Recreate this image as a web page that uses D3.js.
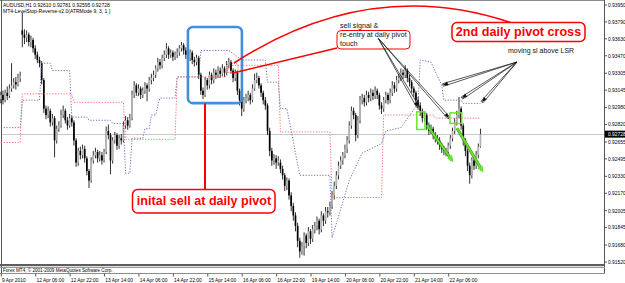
<!DOCTYPE html>
<html>
<head>
<meta charset="utf-8">
<script src="https://cdn.jsdelivr.net/npm/d3@7"></script>
<style>
html, body { margin: 0; padding: 0; background: #fff; }
svg { display: block; }
</style>
</head>
<body>
<div id="chart"></div>
<script>
// Width and height
var chart_width  = 625;
var chart_height = 283;

// AUDUSD H1 bars, 9 Apr 2010 14:00 .. 22 Apr 2010 21:00
var open = [
0.9306,0.9310,0.9305,0.9312,0.9309,0.9316,0.9319,0.9322,0.9320,0.9326,
0.9371,0.9367,0.9364,0.9367,0.9360,0.9362,0.9354,0.9348,0.9343,0.9340,
0.9324,0.9297,0.9291,0.9295,0.9284,0.9288,0.9267,0.9278,0.9281,0.9291,
0.9295,0.9286,0.9281,0.9288,0.9284,0.9267,0.9246,0.9257,0.9253,0.9259,
0.9250,0.9238,0.9229,0.9248,0.9253,0.9256,0.9250,0.9253,0.9248,0.9256,
0.9276,0.9272,0.9248,0.9267,0.9272,0.9262,0.9269,0.9267,0.9281,0.9286,
0.9281,0.9288,0.9310,0.9319,0.9312,0.9316,0.9310,0.9314,0.9319,0.9316,
0.9324,0.9326,0.9329,0.9335,0.9341,0.9338,0.9345,0.9348,0.9354,0.9348,
0.9350,0.9346,0.9348,0.9350,0.9354,0.9357,0.9352,0.9348,0.9345,0.9350,
0.9343,0.9341,0.9345,0.9329,0.9314,0.9310,0.9324,0.9319,0.9329,0.9324,
0.9331,0.9329,0.9333,0.9330,0.9335,0.9331,0.9338,0.9341,0.9333,0.9326,
0.9331,0.9314,0.9305,0.9297,0.9305,0.9307,0.9310,0.9305,0.9316,0.9324,
0.9326,0.9319,0.9312,0.9305,0.9300,0.9276,0.9257,0.9248,0.9250,0.9246,
0.9246,0.9240,0.9234,0.9224,0.9229,0.9215,0.9205,0.9196,0.9186,0.9172,
0.9162,0.9167,0.9177,0.9170,0.9181,0.9174,0.9183,0.9186,0.9191,0.9183,
0.9196,0.9191,0.9200,0.9199,0.9205,0.9215,0.9224,0.9234,0.9243,0.9248,
0.9253,0.9259,0.9267,0.9281,0.9295,0.9291,0.9272,0.9286,0.9305,0.9307,
0.9303,0.9310,0.9307,0.9312,0.9309,0.9314,0.9310,0.9300,0.9297,0.9305,
0.9310,0.9305,0.9312,0.9319,0.9316,0.9324,0.9326,0.9331,0.9329,0.9333,
0.9326,0.9322,0.9316,0.9312,0.9305,0.9300,0.9295,0.9288,0.9291,0.9281,
0.9276,0.9278,0.9272,0.9269,0.9267,0.9262,0.9259,0.9257,0.9256,0.9262,
0.9269,0.9276,0.9284,0.9291,0.9297,0.9281,0.9267,0.9257,0.9243,0.9234,
0.9248,0.9243,0.9253,0.9261
];
var high = [
0.9313,0.9314,0.9315,0.9318,0.9320,0.9340,0.9326,0.9327,0.9330,0.9332,
0.9388,0.9372,0.9371,0.9369,0.9366,0.9364,0.9357,0.9351,0.9346,0.9342,
0.9326,0.9300,0.9299,0.9297,0.9292,0.9290,0.9281,0.9285,0.9296,0.9300,
0.9297,0.9289,0.9292,0.9290,0.9286,0.9269,0.9260,0.9261,0.9263,0.9262,
0.9252,0.9240,0.9251,0.9257,0.9260,0.9258,0.9257,0.9256,0.9259,0.9280,
0.9282,0.9274,0.9270,0.9275,0.9274,0.9272,0.9273,0.9285,0.9290,0.9289,
0.9292,0.9314,0.9323,0.9321,0.9320,0.9318,0.9317,0.9322,0.9321,0.9327,
0.9330,0.9333,0.9338,0.9345,0.9344,0.9348,0.9352,0.9359,0.9356,0.9353,
0.9352,0.9351,0.9354,0.9357,0.9360,0.9359,0.9355,0.9351,0.9353,0.9352,
0.9346,0.9348,0.9347,0.9331,0.9317,0.9327,0.9326,0.9332,0.9331,0.9335,
0.9334,0.9337,0.9336,0.9339,0.9337,0.9342,0.9345,0.9343,0.9335,0.9334,
0.9333,0.9316,0.9307,0.9308,0.9311,0.9314,0.9312,0.9320,0.9330,0.9331,
0.9328,0.9321,0.9314,0.9308,0.9302,0.9279,0.9260,0.9254,0.9253,0.9252,
0.9249,0.9243,0.9236,0.9232,0.9231,0.9218,0.9208,0.9199,0.9189,0.9175,
0.9171,0.9180,0.9179,0.9185,0.9183,0.9187,0.9190,0.9195,0.9193,0.9200,
0.9198,0.9204,0.9204,0.9209,0.9219,0.9228,0.9238,0.9247,0.9252,0.9256,
0.9263,0.9271,0.9285,0.9299,0.9298,0.9293,0.9290,0.9309,0.9311,0.9310,
0.9314,0.9313,0.9316,0.9315,0.9318,0.9316,0.9312,0.9303,0.9308,0.9313,
0.9312,0.9316,0.9323,0.9322,0.9328,0.9330,0.9335,0.9334,0.9338,0.9335,
0.9329,0.9324,0.9318,0.9314,0.9308,0.9303,0.9297,0.9294,0.9293,0.9284,
0.9282,0.9280,0.9275,0.9272,0.9270,0.9265,0.9262,0.9260,0.9265,0.9272,
0.9279,0.9288,0.9295,0.9308,0.9299,0.9283,0.9269,0.9259,0.9246,0.9251,
0.9252,0.9257,0.9264,0.9278
];
var low = [
0.9302,0.9301,0.9303,0.9305,0.9307,0.9313,0.9316,0.9315,0.9318,0.9322,
0.9355,0.9358,0.9360,0.9356,0.9355,0.9350,0.9344,0.9340,0.9336,0.9320,
0.9293,0.9287,0.9288,0.9280,0.9281,0.9251,0.9264,0.9275,0.9279,0.9288,
0.9283,0.9277,0.9279,0.9280,0.9262,0.9242,0.9243,0.9249,0.9250,0.9246,
0.9234,0.9222,0.9227,0.9245,0.9250,0.9246,0.9247,0.9244,0.9246,0.9254,
0.9268,0.9235,0.9245,0.9264,0.9258,0.9259,0.9263,0.9265,0.9278,0.9277,
0.9279,0.9286,0.9307,0.9309,0.9309,0.9306,0.9307,0.9311,0.9304,0.9313,
0.9320,0.9323,0.9326,0.9332,0.9334,0.9335,0.9342,0.9345,0.9344,0.9345,
0.9342,0.9343,0.9345,0.9347,0.9351,0.9348,0.9344,0.9341,0.9342,0.9339,
0.9337,0.9338,0.9325,0.9310,0.9306,0.9308,0.9315,0.9316,0.9320,0.9321,
0.9325,0.9326,0.9326,0.9328,0.9327,0.9329,0.9335,0.9330,0.9322,0.9323,
0.9310,0.9300,0.9290,0.9294,0.9302,0.9304,0.9301,0.9303,0.9314,0.9321,
0.9316,0.9308,0.9301,0.9296,0.9272,0.9252,0.9243,0.9244,0.9240,0.9243,
0.9236,0.9230,0.9219,0.9220,0.9211,0.9200,0.9191,0.9181,0.9166,0.9156,
0.9159,0.9158,0.9165,0.9167,0.9169,0.9171,0.9179,0.9182,0.9178,0.9180,
0.9186,0.9188,0.9194,0.9196,0.9202,0.9211,0.9221,0.9230,0.9240,0.9244,
0.9250,0.9255,0.9264,0.9278,0.9287,0.9266,0.9269,0.9283,0.9301,0.9299,
0.9300,0.9303,0.9304,0.9305,0.9306,0.9306,0.9296,0.9292,0.9294,0.9302,
0.9301,0.9302,0.9309,0.9312,0.9313,0.9321,0.9323,0.9325,0.9326,0.9322,
0.9318,0.9312,0.9308,0.9301,0.9296,0.9290,0.9284,0.9285,0.9277,0.9272,
0.9273,0.9268,0.9265,0.9263,0.9258,0.9255,0.9253,0.9252,0.9253,0.9259,
0.9266,0.9273,0.9281,0.9288,0.9277,0.9262,0.9252,0.9238,0.9226,0.9231,
0.9239,0.9240,0.9250,0.9260
];
var close = [
0.9310,0.9305,0.9312,0.9309,0.9316,0.9319,0.9322,0.9320,0.9326,0.9328,
0.9367,0.9364,0.9367,0.9360,0.9362,0.9354,0.9348,0.9343,0.9340,0.9324,
0.9297,0.9291,0.9295,0.9284,0.9288,0.9267,0.9278,0.9281,0.9291,0.9295,
0.9286,0.9281,0.9288,0.9284,0.9267,0.9246,0.9257,0.9253,0.9259,0.9250,
0.9238,0.9229,0.9248,0.9253,0.9256,0.9250,0.9253,0.9248,0.9256,0.9276,
0.9272,0.9248,0.9267,0.9272,0.9262,0.9269,0.9267,0.9281,0.9286,0.9281,
0.9288,0.9310,0.9319,0.9312,0.9316,0.9310,0.9314,0.9319,0.9316,0.9324,
0.9326,0.9329,0.9335,0.9341,0.9338,0.9345,0.9348,0.9354,0.9348,0.9350,
0.9346,0.9348,0.9350,0.9354,0.9357,0.9352,0.9348,0.9345,0.9350,0.9343,
0.9341,0.9345,0.9329,0.9314,0.9310,0.9324,0.9319,0.9329,0.9324,0.9331,
0.9329,0.9333,0.9330,0.9335,0.9331,0.9338,0.9341,0.9333,0.9326,0.9331,
0.9314,0.9305,0.9297,0.9305,0.9307,0.9310,0.9305,0.9316,0.9324,0.9326,
0.9319,0.9312,0.9305,0.9300,0.9276,0.9257,0.9248,0.9250,0.9246,0.9248,
0.9240,0.9234,0.9224,0.9229,0.9215,0.9205,0.9196,0.9186,0.9172,0.9162,
0.9167,0.9177,0.9170,0.9181,0.9174,0.9183,0.9186,0.9191,0.9183,0.9196,
0.9191,0.9200,0.9199,0.9205,0.9215,0.9224,0.9234,0.9243,0.9248,0.9253,
0.9259,0.9267,0.9281,0.9295,0.9291,0.9272,0.9286,0.9305,0.9307,0.9303,
0.9310,0.9307,0.9312,0.9309,0.9314,0.9310,0.9300,0.9297,0.9305,0.9310,
0.9305,0.9312,0.9319,0.9316,0.9324,0.9326,0.9331,0.9329,0.9333,0.9326,
0.9322,0.9316,0.9312,0.9305,0.9300,0.9295,0.9288,0.9291,0.9281,0.9276,
0.9278,0.9272,0.9269,0.9267,0.9262,0.9259,0.9257,0.9256,0.9262,0.9269,
0.9276,0.9284,0.9291,0.9297,0.9281,0.9267,0.9257,0.9243,0.9234,0.9248,
0.9243,0.9253,0.9261,0.92728
];

// LevelStop-Reverse line (bar index, level)
var stop_bars   = [0,9,10,18,19,23,24,32,33,40,41,51,52,57,58,60,61,66,67,69,70,72,73,74,81,82,92,93,106,112,123,124,129,130,133,139,153,154,162,168,177,179,186,194,195,200,205,206,214,215,223];
var stop_levels = [0.9279,0.9279,0.9305,0.9305,0.9340,0.9340,0.9333,0.9333,0.9289,0.9289,0.9286,0.9286,0.9283,0.9283,0.9236,0.9236,0.9269,0.9269,0.9278,0.9278,0.9291,0.9291,0.9300,0.9307,0.9307,0.9327,0.9327,0.9352,0.9352,0.9343,0.9343,0.9322,0.9322,0.9297,0.9297,0.9234,0.9234,0.9175,0.9229,0.9255,0.9264,0.9276,0.9279,0.9302,0.9343,0.9341,0.9319,0.9305,0.9305,0.9302,0.9302];

// daily pivot (first bar of day, last bar of day, level)
var pivot_start = [0,10,34,58,82,106,130,154,178,202];
var pivot_end   = [9,33,57,81,105,129,153,177,201,223];
var pivot_level = [0.9265,0.9311,0.9303,0.9268,0.9327,0.9338,0.9275,0.9213,0.9291,0.9288];

var price_ticks = [0.93950,0.93790,0.93630,0.93470,0.93305,0.93145,0.92980,0.92820,
                   0.92655,0.92495,0.92330,0.92170,0.92005,0.91845,0.91680,0.91520];
var time_bars   = [0,16,32,48,64,80,96,112,128,144,160,176,192,208];
var time_labels = ['9 Apr 2010','12 Apr 06:00','12 Apr 22:00','13 Apr 14:00','14 Apr 06:00',
                   '14 Apr 22:00','15 Apr 14:00','16 Apr 06:00','16 Apr 22:00','19 Apr 14:00',
                   '20 Apr 06:00','20 Apr 22:00','21 Apr 14:00','22 Apr 06:00'];
var bid = 0.92728;

var x = d3.scaleLinear().domain([0, 223]).range([0.8, 0.8 + 223 * 2.151]);
var y = d3.scaleLinear().domain([0.9152, 0.9395]).range([262, 5]);

var font = "'Liberation Sans', Arial, sans-serif";

// Create SVG
var svg = d3.select('#chart')
    .append('svg')
    .attr('width', chart_width)
    .attr('height', chart_height)
    .style('font-family', font);

svg.append('rect').attr('width', chart_width).attr('height', chart_height).attr('fill', '#fff');

// frame
svg.append('line').attr('x1', 0).attr('x2', 604).attr('y1', 0.5).attr('y2', 0.5).attr('stroke', '#8a8a8a');
svg.append('line').attr('x1', 1.5).attr('x2', 1.5).attr('y1', 0).attr('y2', 274).attr('stroke', '#555');
svg.append('line').attr('x1', 604.5).attr('x2', 604.5).attr('y1', 0).attr('y2', 274).attr('stroke', '#555');
svg.append('rect').attr('x', 0).attr('y', 264).attr('width', 605).attr('height', 2.2).attr('fill', '#5e5e5e');
svg.append('rect').attr('x', 0).attr('y', 267).attr('width', 605).attr('height', 1).attr('fill', '#9a9a9a');
svg.append('line').attr('x1', 0).attr('x2', 605).attr('y1', 273.5).attr('y2', 273.5).attr('stroke', '#8c8c8c');

// bid line
svg.append('line')
    .attr('x1', 2).attr('x2', 604)
    .attr('y1', Math.round(y(bid)) + 0.5).attr('y2', Math.round(y(bid)) + 0.5)
    .attr('stroke', '#c8c8c8');

// candles
var bars = d3.range(close.length);
svg.append('g').selectAll('line')
    .data(bars).enter().append('line')
    .attr('x1', function(i){ return x(i); })
    .attr('x2', function(i){ return x(i); })
    .attr('y1', function(i){ return y(high[i]); })
    .attr('y2', function(i){ return y(low[i]); })
    .attr('stroke', '#1a1a1a')
    .attr('stroke-width', 0.9);

svg.append('g').selectAll('rect')
    .data(bars).enter().append('rect')
    .attr('x', function(i){ return x(i) - 0.85; })
    .attr('width', 1.7)
    .attr('y', function(i){ return y(Math.max(open[i], close[i])); })
    .attr('height', function(i){ return Math.max(0.7, Math.abs(y(open[i]) - y(close[i]))); })
    .attr('fill', function(i){ return close[i] >= open[i] ? '#b4b4b4' : '#000'; });

// indicator lines
var stopLine = d3.line()
    .x(function(d){ return x(d[0]); })
    .y(function(d){ return y(d[1]); });

svg.append('path')
    .attr('d', stopLine(stop_bars.map(function(b, i){ return [b, stop_levels[i]]; })))
    .attr('fill', 'none')
    .attr('stroke', '#5c5cb8')
    .attr('stroke-width', 0.9)
    .attr('stroke-dasharray', '1.2,1.6');

var pivotPts = [];
pivot_start.forEach(function(s, i){
    pivotPts.push([s, pivot_level[i]]);
    pivotPts.push([pivot_end[i], pivot_level[i]]);
});
svg.append('path')
    .attr('d', stopLine(pivotPts))
    .attr('fill', 'none')
    .attr('stroke', '#ff5a5a')
    .attr('stroke-width', 0.9)
    .attr('stroke-dasharray', '1.2,1.6');

// price axis
price_ticks.forEach(function(v){
    var py = y(v);
    svg.append('line').attr('x1', 604).attr('x2', 607).attr('y1', py).attr('y2', py).attr('stroke', '#555');
    svg.append('text').attr('x', 608).attr('y', py + 1.8)
        .attr('font-size', 4.9).attr('fill', '#000').text(v.toFixed(5));
});
svg.append('rect').attr('x', 605).attr('y', y(bid) - 3.6).attr('width', 20).attr('height', 7).attr('fill', '#000');
svg.append('text').attr('x', 608).attr('y', y(bid) + 1.8)
    .attr('font-size', 4.9).attr('fill', '#fff').text(bid.toFixed(5));

// time axis
time_bars.forEach(function(b, i){
    svg.append('line').attr('x1', x(b) + 0.5).attr('x2', x(b) + 0.5).attr('y1', 273.5).attr('y2', 276.5).attr('stroke', '#555');
    svg.append('text').attr('x', x(b) + 1.2).attr('y', 282)
        .attr('font-size', 4.9).attr('fill', '#000').text(time_labels[i]);
});

// info texts
svg.append('text').attr('x', 3).attr('y', 6.8).attr('font-size', 5).attr('fill', '#000')
    .text('AUDUSD,H1  0.92610 0.92781 0.92595 0.92728');
svg.append('text').attr('x', 3).attr('y', 12.8).attr('font-size', 5).attr('fill', '#000')
    .text('MT4-LevelStop-Reverse-v2.0(ATRMode 9, 3, 1 )');
svg.append('text').attr('x', 3).attr('y', 271.8).attr('font-size', 4.6).attr('fill', '#000')
    .text('Forex MT4, \u00a9 2001-2009 MetaQuotes Software Corp.');

// ---- annotations ----
function arrowHead(x1, y1, x2, y2, len, w, color){
    var a = Math.atan2(y2 - y1, x2 - x1);
    var bx = x2 - len * Math.cos(a), by = y2 - len * Math.sin(a);
    var nx = -Math.sin(a) * w / 2, ny = Math.cos(a) * w / 2;
    svg.append('path')
        .attr('d', 'M' + x2 + ',' + y2 + 'L' + (bx + nx) + ',' + (by + ny) + 'L' + (bx - nx) + ',' + (by - ny) + 'Z')
        .attr('fill', color);
}
function wedge(x1, y1, x2, y2){
    var a = Math.atan2(y2 - y1, x2 - x1);
    var nx = -Math.sin(a) * 1.3, ny = Math.cos(a) * 1.3;
    svg.append('path')
        .attr('d', 'M' + x1 + ',' + y1 + 'L' + (x2 + nx) + ',' + (y2 + ny) + 'L' + (x2 - nx) + ',' + (y2 - ny) + 'Z')
        .attr('fill', 'none').attr('stroke', '#111').attr('stroke-width', 0.7);
    arrowHead(x1, y1, x2, y2, 5, 4, '#111');
}

// blue box round the first pivot area
svg.append('rect')
    .attr('x', x(87)).attr('y', y(0.93742))
    .attr('width', x(112.1) - x(87)).attr('height', y(0.93022) - y(0.93742))
    .attr('rx', 5)
    .attr('fill', 'none').attr('stroke', '#3f8fdc').attr('stroke-width', 2.6);

// pivot touch mark
svg.append('rect')
    .attr('x', x(105.2)).attr('y', y(0.9340))
    .attr('width', x(110.3) - x(105.2)).attr('height', y(0.9331) - y(0.9340))
    .attr('rx', 3)
    .attr('fill', 'none').attr('stroke', '#ff3030').attr('stroke-width', 0.8).attr('stroke-dasharray', '1,1');

// red callouts
svg.append('line').attr('x1', 205).attr('x2', 205).attr('y1', 103.5).attr('y2', 189.5)
    .attr('stroke', '#ff0000').attr('stroke-width', 2);
svg.append('rect').attr('x', 132.5).attr('y', 189.5).attr('width', 142.5).attr('height', 23.5).attr('rx', 5)
    .attr('fill', '#fff').attr('stroke', '#ff0000').attr('stroke-width', 1.5);
svg.append('text').attr('x', 204).attr('y', 204.5).attr('text-anchor', 'middle')
    .attr('font-size', 12.6).attr('font-weight', 'bold').attr('fill', '#ff0000')
    .text('inital sell at daily pivot');

svg.append('path').attr('d', 'M234,63 Q370,-25 512,23')
    .attr('fill', 'none').attr('stroke', '#ff0000').attr('stroke-width', 1.6);
svg.append('line').attr('x1', 233).attr('y1', 73).attr('x2', 337).attr('y2', 48)
    .attr('stroke', '#ff0000').attr('stroke-width', 1.5);

svg.append('rect').attr('x', 452).attr('y', 22.5).attr('width', 133).attr('height', 19).attr('rx', 5)
    .attr('fill', '#fff').attr('stroke', '#ff0000').attr('stroke-width', 1.5);
svg.append('text').attr('x', 518.5).attr('y', 36.3).attr('text-anchor', 'middle')
    .attr('font-size', 12.6).attr('font-weight', 'bold').attr('fill', '#ff0000')
    .text('2nd daily pivot cross');

svg.append('rect').attr('x', 337).attr('y', 30.5).attr('width', 73).attr('height', 18.5).attr('rx', 4)
    .attr('fill', 'none').attr('stroke', '#ff0000').attr('stroke-width', 1);
['sell signal &', 're-entry at daily pivot', 'touch'].forEach(function(t, i){
    svg.append('text').attr('x', 340).attr('y', 28 + i * 9)
        .attr('font-size', 7.2).attr('fill', '#111').text(t);
});

// black pointers
wedge(378, 38, 418, 107);
wedge(379, 39, 449, 118);

svg.append('text').attr('x', 508).attr('y', 53)
    .attr('font-size', 7).attr('fill', '#111').text('moving sl above LSR');
wedge(517, 62, 443, 85);
wedge(517, 62, 462, 98);
wedge(517, 62, 482, 102);

// green signal boxes and arrows
var green = '#66e62e';
[[193.4, 197.2, 0.92940, 0.92773], [208.8, 214.3, 0.92930, 0.92830]].forEach(function(b){
    svg.append('rect')
        .attr('x', x(b[0])).attr('y', y(b[2]))
        .attr('width', x(b[1]) - x(b[0])).attr('height', y(b[3]) - y(b[2]))
        .attr('fill', 'none').attr('stroke', green).attr('stroke-width', 1.5);
});
[[198.1, 0.92814, 209.8, 0.92482], [212.1, 0.92785, 223.7, 0.92388]].forEach(function(a){
    var x1 = x(a[0]), y1 = y(a[1]), x2 = x(a[2]), y2 = y(a[3]);
    svg.append('line').attr('x1', x1).attr('y1', y1).attr('x2', x2).attr('y2', y2)
        .attr('stroke', '#3a8a12').attr('stroke-width', 3);
    svg.append('line').attr('x1', x1).attr('y1', y1).attr('x2', x2).attr('y2', y2)
        .attr('stroke', green).attr('stroke-width', 1.8);
    arrowHead(x1, y1, x2 + (x2 - x1) * 0.06, y2 + (y2 - y1) * 0.06, 7, 6, green);
});
</script>
</body>
</html>
